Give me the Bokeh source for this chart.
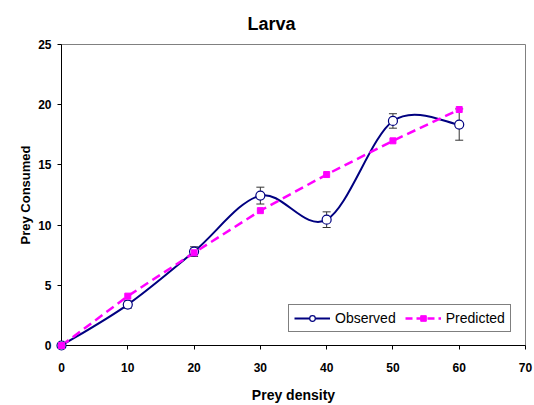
import numpy as np
from bokeh.plotting import figure
from bokeh.models import Range1d, Legend, LegendItem, FixedTicker
from bokeh.embed import file_html
from bokeh.resources import INLINE

# ---- data ----
density = [0, 10, 20, 30, 40, 50, 60]
observed = [0, 3.4, 7.8, 12.45, 10.45, 18.65, 18.35]
obs_err = [0, 0.3, 0.4, 0.7, 0.65, 0.6, 1.3]
predicted = [0, 4.1, 7.7, 11.2, 14.2, 17.0, 19.6]
x_ticks = [0, 10, 20, 30, 40, 50, 60, 70]
y_ticks = [0, 5, 10, 15, 20, 25]

NAVY = "#000080"
MAG = "#FF00FF"
FONT = "Liberation Sans"

p = figure(width=534, height=405, output_backend="svg", toolbar_location=None,
           x_range=Range1d(0, 70), y_range=Range1d(0, 25),
           min_border_left=61, min_border_right=9, min_border_top=40, min_border_bottom=59)

p.title.text = "Larva"
p.title.text_font = FONT
p.title.text_font_size = "18px"
p.title.text_font_style = "bold"
p.title.text_color = "black"
p.title.align = "left"
p.title.offset = 186
p.title.standoff = 22

p.grid.visible = False
p.outline_line_color = "#808080"
p.outline_line_width = 1

for ax in (p.xaxis, p.yaxis):
    ax.axis_line_color = "black"
    ax.major_tick_line_color = "black"
    ax.major_tick_out = 4
    ax.major_tick_in = 0
    ax.minor_tick_line_color = None
    ax.major_label_text_font = FONT
    ax.major_label_text_font_size = "12px"
    ax.major_label_text_font_style = "bold"
    ax.major_label_text_color = "black"
    ax.axis_label_text_font = FONT
    ax.axis_label_text_font_style = "bold"
    ax.axis_label_text_color = "black"
p.xaxis.ticker = FixedTicker(ticks=x_ticks)
p.yaxis.ticker = FixedTicker(ticks=y_ticks)
p.xaxis.axis_label = "Prey density"
p.yaxis.axis_label = "Prey Consumed"
p.xaxis.axis_label_text_font_size = "14px"
p.yaxis.axis_label_text_font_size = "13px"
p.xaxis.major_label_standoff = 13
p.yaxis.major_label_standoff = 6
p.xaxis.axis_label_standoff = 12
p.yaxis.axis_label_standoff = 2

# smoothed observed line (Catmull-Rom style bezier through the data)
P = np.column_stack([density, observed]).astype(float)
n = len(P)
x0, y0, x1, y1, cx0, cy0, cx1, cy1 = [], [], [], [], [], [], [], []
for i in range(n - 1):
    prev = P[i - 1] if i > 0 else P[i]
    nxt = P[i + 2] if i + 2 < n else P[i + 1]
    c1 = P[i] + (P[i + 1] - prev) / 6
    c2 = P[i + 1] - (nxt - P[i]) / 6
    x0.append(P[i][0]); y0.append(P[i][1])
    x1.append(P[i + 1][0]); y1.append(P[i + 1][1])
    cx0.append(c1[0]); cy0.append(c1[1])
    cx1.append(c2[0]); cy1.append(c2[1])
p.bezier(x0=x0, y0=y0, x1=x1, y1=y1, cx0=cx0, cy0=cy0, cx1=cx1, cy1=cy1,
         line_color=NAVY, line_width=2, level="overlay")

# error bars
lo = [o - e for o, e in zip(observed, obs_err)]
hi = [o + e for o, e in zip(observed, obs_err)]
p.segment(x0=density, y0=lo, x1=density, y1=hi, line_color="#333333", line_width=1, level="overlay")
p.dash(x=density, y=lo, size=8, line_color="#333333", line_width=1, level="overlay")
p.dash(x=density, y=hi, size=8, line_color="#333333", line_width=1, level="overlay")

# predicted dashed line
p.line(density, predicted, line_color=MAG, line_width=2.5, line_dash="9 5", level="overlay")

obs_pts = p.scatter(density, observed, marker="circle", size=9, fill_color="white",
                    line_color=NAVY, line_width=1.2, level="overlay")
pred_pts = p.scatter(density, predicted, marker="square", size=6, fill_color=MAG,
                     line_color=MAG, level="overlay")

# legend-only line glyphs (placed outside the visible ranges)
dummy_obs = p.line(x=[-100, -99], y=[-100, -100], line_color=NAVY, line_width=2)
dummy_pred = p.line(x=[-100, -99], y=[-100, -100], line_color=MAG, line_width=2.5, line_dash="7 4")

legend = Legend(items=[
    LegendItem(label="Observed", renderers=[dummy_obs, obs_pts]),
    LegendItem(label="Predicted", renderers=[dummy_pred, pred_pts]),
], location=(227, 13), orientation="horizontal")
legend.label_text_font = FONT
legend.label_text_font_size = "14px"
legend.label_text_color = "black"
legend.glyph_width = 36
legend.glyph_height = 14
legend.label_standoff = 5
legend.spacing = 9
legend.padding = 5
legend.margin = 0
legend.border_line_color = "black"
legend.border_line_width = 1
legend.background_fill_alpha = 1
p.add_layout(legend)

open("out.html", "w").write(file_html(p, INLINE))
